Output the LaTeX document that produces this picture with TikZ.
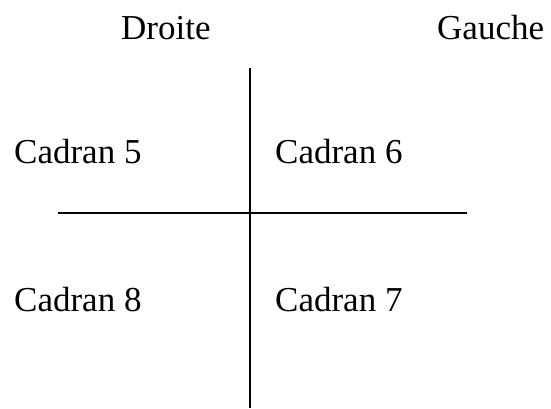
\documentclass[tikz,border=0pt]{standalone}
\usepackage{fontspec}
\setmainfont{Liberation Serif}
\begin{document}
\begin{tikzpicture}[x=1pt,y=-1pt,
  lbl/.style={anchor=base west, inner sep=0pt, font=\fontsize{35}{42}\selectfont},
  axis/.style={line width=1.6pt, black}]
\useasboundingbox (0,0) rectangle (551,408);
% column headings
\node[lbl] (droite) at (121,39) {Droite};
\node[lbl] (gauche) at (437,39) {Gauche};
% quadrant labels
\node[lbl] (c5) at (14,163) {Cadran 5};
\node[lbl] (c6) at (275,163) {Cadran 6};
\node[lbl] (c8) at (14,311) {Cadran 8};
\node[lbl] (c7) at (275,311) {Cadran 7};
% dividing axes
\coordinate (vtop) at (250,68);
\coordinate (vbot) at (250,408);
\coordinate (hleft) at (58,213);
\coordinate (hright) at (467,213);
\draw[axis] (vtop) -- (vbot);
\draw[axis] (hleft) -- (hright);
\end{tikzpicture}
\end{document}
